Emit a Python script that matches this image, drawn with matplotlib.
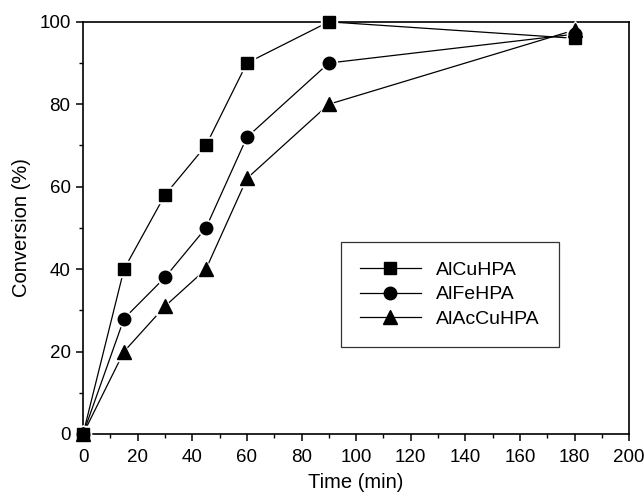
import matplotlib
matplotlib.use('Agg')
import matplotlib.pyplot as plt
from matplotlib.lines import Line2D
from matplotlib.ticker import MultipleLocator

plt.rcParams.update({
    'font.family': ['Liberation Sans', 'DejaVu Sans'],
    'font.size': 13,
    'axes.linewidth': 1.2,
    'xtick.direction': 'out',
    'ytick.direction': 'out',
})

time_min = [0, 15, 30, 45, 60, 90, 180]
alcuhpa = [0, 40, 58, 70, 90, 100, 96]
alfehpa = [0, 28, 38, 50, 72, 90, 97]
alaccuhpa = [0, 20, 31, 40, 62, 80, 98]

series = [
    ('AlCuHPA', alcuhpa, 's', 9.0),
    ('AlFeHPA', alfehpa, 'o', 9.0),
    ('AlAcCuHPA', alaccuhpa, '^', 10.5),
]

fig = plt.figure(figsize=(6.44, 4.96), dpi=100)
ax = fig.add_axes([0.129, 0.125, 0.848, 0.831])

handles = []
for name, vals, mk, ms in series:
    # connecting line, then a white halo so the line stops short of each symbol,
    # then the filled symbols on top
    ax.plot(time_min, vals, color='black', linewidth=0.9, zorder=2, clip_on=False)
    ax.plot(time_min, vals, linestyle='none', marker=mk, markersize=ms + 2.5,
            markerfacecolor='white', markeredgecolor='white', zorder=3,
            clip_on=False)
    handles.append(Line2D([], [], color='black', linewidth=0.9, marker=mk,
                          markersize=ms, markerfacecolor='black',
                          markeredgecolor='black', label=name))

for name, vals, mk, ms in series:
    ax.plot(time_min, vals, linestyle='none', marker=mk, markersize=ms,
            markerfacecolor='black', markeredgecolor='black', zorder=4,
            clip_on=False)

ax.set_xlim(0, 200)
ax.set_ylim(0, 100)
ax.xaxis.set_major_locator(MultipleLocator(20))
ax.xaxis.set_minor_locator(MultipleLocator(10))
ax.yaxis.set_major_locator(MultipleLocator(20))
ax.yaxis.set_minor_locator(MultipleLocator(10))
ax.tick_params(which='major', length=5, width=1.1, labelsize=13.5, pad=4)
ax.tick_params(axis='x', which='major', pad=6)
ax.tick_params(which='minor', length=3, width=1.0)

ax.set_xlabel('Time (min)', fontsize=14.5, labelpad=5)
ax.set_ylabel('Conversion (%)', fontsize=14.5, labelpad=6)

leg = ax.legend(handles=handles, loc='center', bbox_to_anchor=(0.672, 0.338),
                frameon=True, fancybox=False, edgecolor='black', fontsize=14,
                borderpad=1.0, handlelength=3.1, handletextpad=0.8,
                labelspacing=0.35, borderaxespad=0)
leg.get_frame().set_linewidth(0.9)

fig.savefig('out.png', dpi=100)
